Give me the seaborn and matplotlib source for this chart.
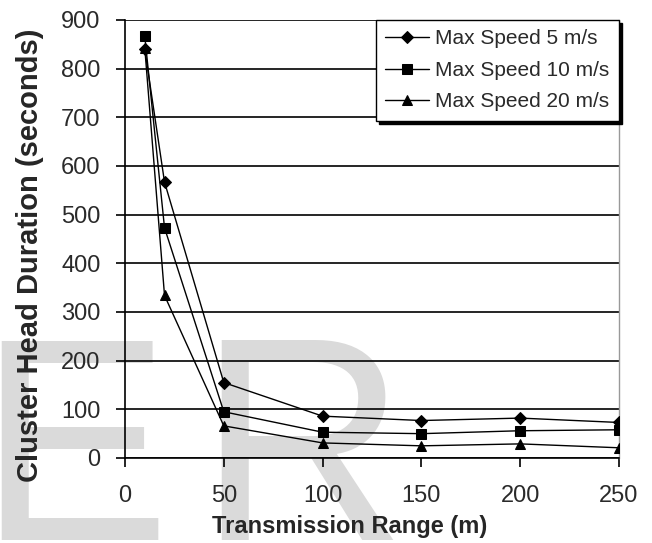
import matplotlib
matplotlib.use('Agg')
import matplotlib.pyplot as plt
import seaborn as sns
import pandas as pd

# ---- data ----
x_range = [10, 20, 50, 100, 150, 200, 250]
speed5 = [840, 567, 155, 86, 77, 82, 73]
speed10 = [867, 473, 95, 53, 50, 56, 58]
speed20 = [843, 334, 66, 31, 25, 29, 21]
series_labels = ['Max Speed 5 m/s', 'Max Speed 10 m/s', 'Max Speed 20 m/s']
x_ticks = [0, 50, 100, 150, 200, 250]
y_ticks = [0, 100, 200, 300, 400, 500, 600, 700, 800, 900]

rows = []
for lab, vals in zip(series_labels, [speed5, speed10, speed20]):
    for xv, yv in zip(x_range, vals):
        rows.append({'range': xv, 'duration': yv, 'series': lab})
df = pd.DataFrame(rows)

sns.set_theme(style='white')
plt.rcParams['font.family'] = ['Liberation Sans', 'DejaVu Sans']

W, H = 652, 543
fig = plt.figure(figsize=(W / 100, H / 100), dpi=100)
fig.patch.set_facecolor('white')
ax = fig.add_axes([125 / W, 85 / H, (619 - 125) / W, (458 - 20) / H])
ax.set_facecolor('none')

# watermark letters (behind everything)
wm = dict(fontsize=208, color='#dadada', va='baseline', ha='left', zorder=-5,
          family='Liberation Sans')
fig.text(-23 / W, 3 / H, 'E', **wm)
fig.text(197 / W, 3 / H, 'R', **wm)

sns.lineplot(data=df, x='range', y='duration', hue='series', style='series',
             palette=['black'] * 3,
             markers={series_labels[0]: 'D', series_labels[1]: 's', series_labels[2]: '^'},
             dashes=False, markersize=6.5, linewidth=1.0, markeredgecolor='black',
             ax=ax, legend=True, zorder=3)
for ln, ms in zip(ax.get_lines()[:3], [6.0, 6.5, 7.0]):
    ln.set_markersize(ms)

ax.set_xlim(0, 250)
ax.set_ylim(0, 900)
ax.set_xticks(x_ticks)
ax.set_yticks(y_ticks)
ax.yaxis.grid(True, color='black', linewidth=1.2)
ax.set_axisbelow(True)

ax.spines['top'].set_visible(False)
ax.spines['right'].set_color('#999999')
ax.spines['right'].set_linewidth(1.0)
for s in ['left', 'bottom']:
    ax.spines[s].set_color('black')
    ax.spines[s].set_linewidth(1.2)

ax.tick_params(axis='y', direction='out', length=6.5, width=1.2, color='black',
               labelsize=17, pad=11, left=True)
ax.tick_params(axis='x', direction='out', length=6.5, width=1.2, color='black',
               labelsize=17, pad=13, bottom=True)
for lbl in ax.get_xticklabels() + ax.get_yticklabels():
    lbl.set_color('#2a2a2a')

ax.set_xlabel('Transmission Range (m)', fontsize=17, fontweight='bold')
ax.set_ylabel('Cluster Head Duration (seconds)', fontsize=21, fontweight='bold')
ax.xaxis.set_label_coords((350 - 125) / 494, (458 - 515) / 438)
ax.yaxis.set_label_coords((44 - 125) / 494, (458 - 255) / 438)

leg = ax.legend(loc='upper right', bbox_to_anchor=(1.0, 1.0), borderaxespad=0.0,
                frameon=True, fancybox=False, edgecolor='black', fontsize=15,
                handlelength=2.1, handletextpad=0.3, labelspacing=0.6,
                borderpad=0.45, shadow={'color': 'black', 'alpha': 1.0})
leg.get_frame().set_linewidth(1.0)
leg.get_frame().set_facecolor('white')
leg.set_zorder(10)
for t in leg.get_texts():
    t.set_color('#2a2a2a')

fig.savefig('out.png', dpi=100, facecolor='white')
